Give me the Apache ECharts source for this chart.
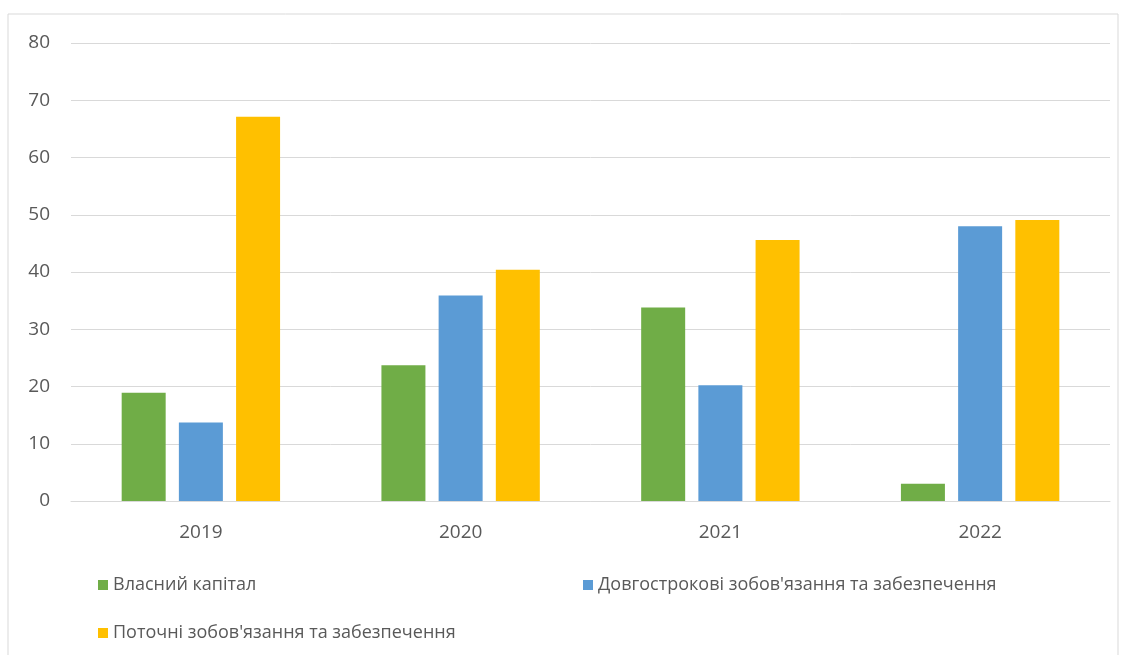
<!DOCTYPE html>
<html>
<head>
<meta charset="utf-8">
<script src="https://cdn.jsdelivr.net/npm/echarts@6/dist/echarts.min.js"></script>
<style>
  html, body { margin: 0; padding: 0; background: #fff; }
  #chart { width: 1124px; height: 655px; }
</style>
</head>
<body>
<div id="chart"></div>
<script>
// роки
const years = ["2019", "2020", "2021", "2022"];
const ownCapital = [18.9, 23.7, 33.8, 3.0];
const longTerm = [13.7, 35.9, 20.2, 48.0];
const currentLiab = [67.1, 40.4, 45.6, 49.1];
const seriesNames = [
  "Власний капітал",
  "Довгострокові зобов'язання та забезпечення",
  "Поточні зобов'язання та забезпечення"
];
const yTicks = [0, 10, 20, 30, 40, 50, 60, 70, 80];

const textColor = "#595959";
const fontFam = "'Open Sans', 'Noto Sans', sans-serif";

let chart = echarts.init(document.getElementById("chart"));

function bar(name, data, color) {
  return {
    name: name,
    type: "bar",
    data: data,
    barWidth: 44,
    barGap: "30%",
    itemStyle: { color: color },
  };
}

function legendAt(name, left, top) {
  return {
    data: [name],
    left: left,
    top: top,
    icon: "rect",
    itemWidth: 10,
    itemHeight: 10,
    itemGap: 6,
    textStyle: { color: textColor, fontSize: 18, fontFamily: fontFam },
  };
}

let option = {
  animation: false,
  graphic: [
    {
      type: "rect",
      shape: { x: 8, y: 14, width: 1110, height: 660 },
      style: { fill: "none", stroke: "#d9d9d9", lineWidth: 1 },
    },
  ],
  grid: { left: 71, right: 14, top: 43, bottom: 154 },
  legend: [
    legendAt(seriesNames[0], 93, 571),
    legendAt(seriesNames[1], 578, 571),
    legendAt(seriesNames[2], 93, 619),
  ],
  xAxis: {
    type: "category",
    data: years,
    axisLine: { lineStyle: { color: "#d9d9d9", width: 1 } },
    axisTick: { show: false },
    axisLabel: { color: textColor, fontSize: 19, fontFamily: fontFam, margin: 22 },
  },
  yAxis: {
    type: "value",
    min: yTicks[0],
    max: yTicks[yTicks.length - 1],
    interval: 10,
    axisLine: { show: false },
    axisTick: { show: false },
    axisLabel: { color: textColor, fontSize: 19, fontFamily: fontFam, margin: 21 },
    splitLine: { lineStyle: { color: "#d9d9d9", width: 1 } },
  },
  series: [
    bar(seriesNames[0], ownCapital, "#70ad47"),
    bar(seriesNames[1], longTerm, "#5b9bd5"),
    bar(seriesNames[2], currentLiab, "#ffc000"),
  ],
};

chart.setOption(option);
</script>
</body>
</html>
